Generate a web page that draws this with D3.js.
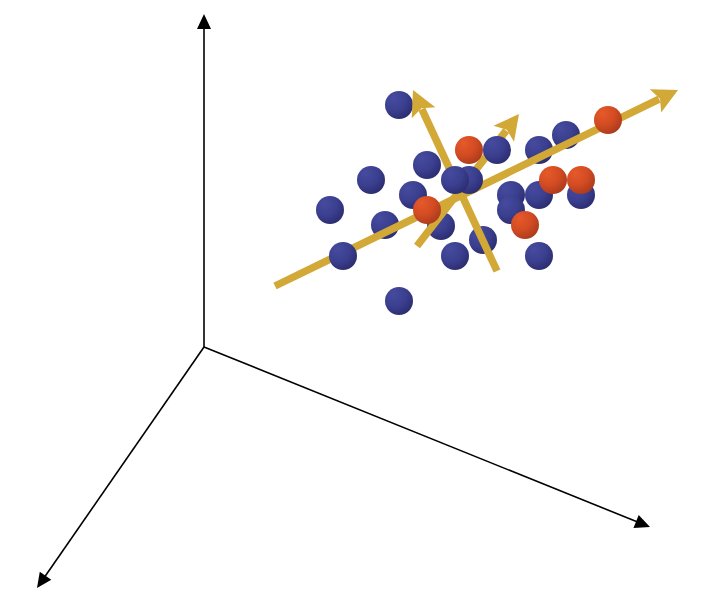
<!DOCTYPE html>
<html>
<head>
<meta charset="utf-8">
<script src="https://cdn.jsdelivr.net/npm/d3@7"></script>
<style>
  html, body { margin: 0; padding: 0; background: #fff; }
  svg { display: block; }
</style>
</head>
<body>
<svg id="chart" width="712" height="612"></svg>
<script>
// ---- Data (projected 2-D coordinates, arbitrary units; origin at axes' origin) ----
// Blue group
const blueX = [19.5, 16.7, 12.6, 20.9, 18.1, 13.9, 22.3, 23.7, 25.1, 19.5, 25.1, 26.5, 29.3, 27.9, 30.7, 30.7, 33.5, 33.5, 36.2, 37.7, 33.5];
const blueY = [24.2, 16.7, 13.7, 15.2, 12.2,  9.1, 18.2, 12.1,  9.1,  4.6, 16.7, 16.7, 19.7, 10.7, 15.2, 13.7, 19.7, 15.2, 21.2, 15.2,  9.1];
const blueDepth = [0, 0, 0, 0, 0, 20, 0, 0, 0, 0, 22, 21, 21, 0, 1, 2, 0, 0, 0, 0, 0];
// Red group
const redX = [26.5, 22.3, 34.9, 37.7, 32.1, 40.4];
const redY = [19.7, 13.7, 16.7, 16.7, 12.2, 22.7];
const redDepth = [23, 23, 23, 24, 23, 23];
// Principal-component arrows: start and tip
const pcNames  = ["PC1", "PC2", "PC3"];
const pcStartX = [ 7.1, 29.3, 21.3];
const pcStartY = [ 6.1,  7.6, 10.1];
const pcTipX   = [47.4, 20.9, 31.5];
const pcTipY   = [25.7, 25.7, 23.3];
const pcDepth  = [11, 12, 10];
// Coordinate axes tips (from origin 0,0)
const axisTipX = [0, -16.7, 44.6];
const axisTipY = [33.3, -24.1, -18.0];

// ---- Scales ----
const x = d3.scaleLinear().domain([-20.4, 50.8]).range([0, 712]);
const y = d3.scaleLinear().domain([0, 35]).range([347, -3]);

const svg = d3.select("#chart");
const defs = svg.append("defs");

function sphereGrad(id, light, mid, dark) {
  const g = defs.append("radialGradient").attr("id", id)
    .attr("cx", "35%").attr("cy", "30%").attr("r", "85%").attr("fx", "30%").attr("fy", "25%");
  g.append("stop").attr("offset", "0%").attr("stop-color", light);
  g.append("stop").attr("offset", "50%").attr("stop-color", mid);
  g.append("stop").attr("offset", "100%").attr("stop-color", dark);
}
sphereGrad("gBlue", "#464b9f", "#3b3f8f", "#262866");
sphereGrad("gRed", "#e65a2a", "#d24b22", "#a0361a");

// ---- Axes ----
const ax = svg.append("g");
const ox = x(0), oy = y(0);
axisTipX.forEach((tx, i) => {
  const X = x(tx), Y = y(axisTipY[i]);
  const dx = X - ox, dy = Y - oy, L = Math.hypot(dx, dy);
  const ux = dx / L, uy = dy / L, px = -uy, py = ux;
  const hl = 15, hw = 7;
  ax.append("line")
    .attr("x1", ox).attr("y1", oy)
    .attr("x2", X - ux * (hl - 1)).attr("y2", Y - uy * (hl - 1))
    .attr("stroke", "#000").attr("stroke-width", 1.6);
  const bx = X - ux * hl, by = Y - uy * hl;
  ax.append("path")
    .attr("d", `M${X},${Y}L${bx + px * hw},${by + py * hw}L${bx - px * hw},${by - py * hw}Z`)
    .attr("fill", "#000");
});

// ---- Build depth-sorted items ----
const items = [];
blueX.forEach((v, i) => items.push({ type: "s", cx: v, cy: blueY[i], depth: blueDepth[i], grad: "gBlue", ord: i }));
redX.forEach((v, i) => items.push({ type: "s", cx: v, cy: redY[i], depth: redDepth[i], grad: "gRed", ord: 100 + i }));
pcNames.forEach((n, i) => items.push({ type: "a", name: n, sx: pcStartX[i], sy: pcStartY[i], tx: pcTipX[i], ty: pcTipY[i], depth: pcDepth[i], ord: 200 + i }));
items.sort((a, b) => a.depth - b.depth || a.ord - b.ord);

const gold = "#d2a836";
const R = 14;
const layer = svg.append("g");
items.forEach(d => {
  if (d.type === "s") {
    layer.append("circle")
      .attr("cx", x(d.cx)).attr("cy", y(d.cy)).attr("r", R)
      .attr("fill", `url(#${d.grad})`);
  } else {
    const X1 = x(d.sx), Y1 = y(d.sy), X2 = x(d.tx), Y2 = y(d.ty);
    const dx = X2 - X1, dy = Y2 - Y1, L = Math.hypot(dx, dy);
    const ux = dx / L, uy = dy / L, px = -uy, py = ux;
    const hl = 25, hw = 13, notch = 5;
    const g = layer.append("g").attr("class", "pc").attr("data-name", d.name);
    g.append("line")
      .attr("x1", X1).attr("y1", Y1)
      .attr("x2", X2 - ux * (hl - 4)).attr("y2", Y2 - uy * (hl - 4))
      .attr("stroke", gold).attr("stroke-width", 7.5);
    const bx = X2 - ux * hl, by = Y2 - uy * hl;
    const nx = bx + ux * notch, ny = by + uy * notch;
    g.append("path")
      .attr("d", `M${X2},${Y2}L${bx + px * hw},${by + py * hw}L${nx},${ny}L${bx - px * hw},${by - py * hw}Z`)
      .attr("fill", gold);
  }
});
</script>
</body>
</html>
